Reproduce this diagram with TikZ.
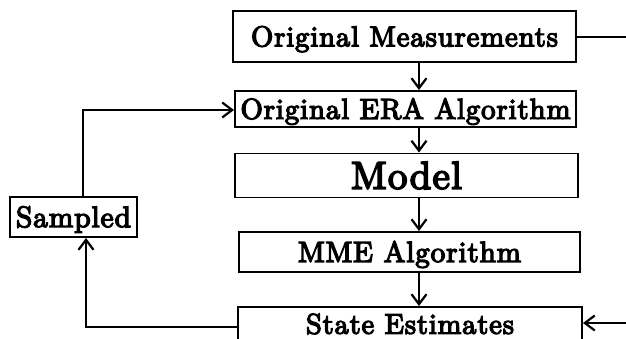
\documentclass[tikz,border=0pt]{standalone}
\usepackage{fontspec}
\usepackage{graphicx}
\newfontfamily\heavyrm{Latin Modern Roman}[FakeBold=4.5,LetterSpace=3]
\usetikzlibrary{arrows.meta,calc}
\newcommand\fitw[2]{\resizebox{#1pt}{!}{\heavyrm\raisebox{0pt}[\fontcharht\font`M][0pt]{#2}}}
\begin{document}
\begin{tikzpicture}[x=1pt,y=-1pt,
  box/.style={draw,line width=1.9pt,rectangle,inner sep=0pt},
  conn/.style={line width=2.2pt,line join=miter},
  arr/.style={conn,-{Straight Barb[length=10pt,width=15pt,line width=2.2pt]}}]
\useasboundingbox (0,0) rectangle (626,339);
\node[box,minimum width=343pt,minimum height=51pt] (om) at (404.5,36.5) {\fitw{307}{Original Measurements}};
\node[box,minimum width=341pt,minimum height=36pt] (ora) at (405.5,109) {\fitw{330}{Original ERA Algorithm}};
\node[box,minimum width=343pt,minimum height=44pt] (model) at (406.5,175.5) {\fitw{111}{Model}};
\node[box,minimum width=341pt,minimum height=40pt] (mme) at (409.5,252) {\fitw{223}{MME Algorithm}};
\node[box,minimum width=344pt,minimum height=34pt] (se) at (410,324) {\fitw{208}{State Estimates}};
\node[box,minimum width=127pt,minimum height=40pt] (samp) at (73.5,217) {\fitw{115}{Sampled}};
\coordinate (ax) at (419,0);
\draw[arr] (om.south -| ax) -- (ora.north -| ax);
\draw[arr] (ora.south -| ax) -- (model.north -| ax);
\draw[arr] (model.south -| ax) -- (mme.north -| ax);
\draw[arr] (mme.south -| ax) -- (se.north -| ax);
\coordinate (rt) at (626,37);
\draw[conn] (om.east |- rt) -- (rt);
\coordinate (rb) at (626,323);
\draw[arr] (rb) -- (se.east |- rb);
\coordinate (bl) at (86,327);
\draw[arr] (se.west |- bl) -- (bl) -- (samp.south -| bl);
\coordinate (tl) at (83,110);
\draw[arr] (samp.north -| tl) -- (tl) -- (ora.west |- tl);
\end{tikzpicture}
\end{document}
